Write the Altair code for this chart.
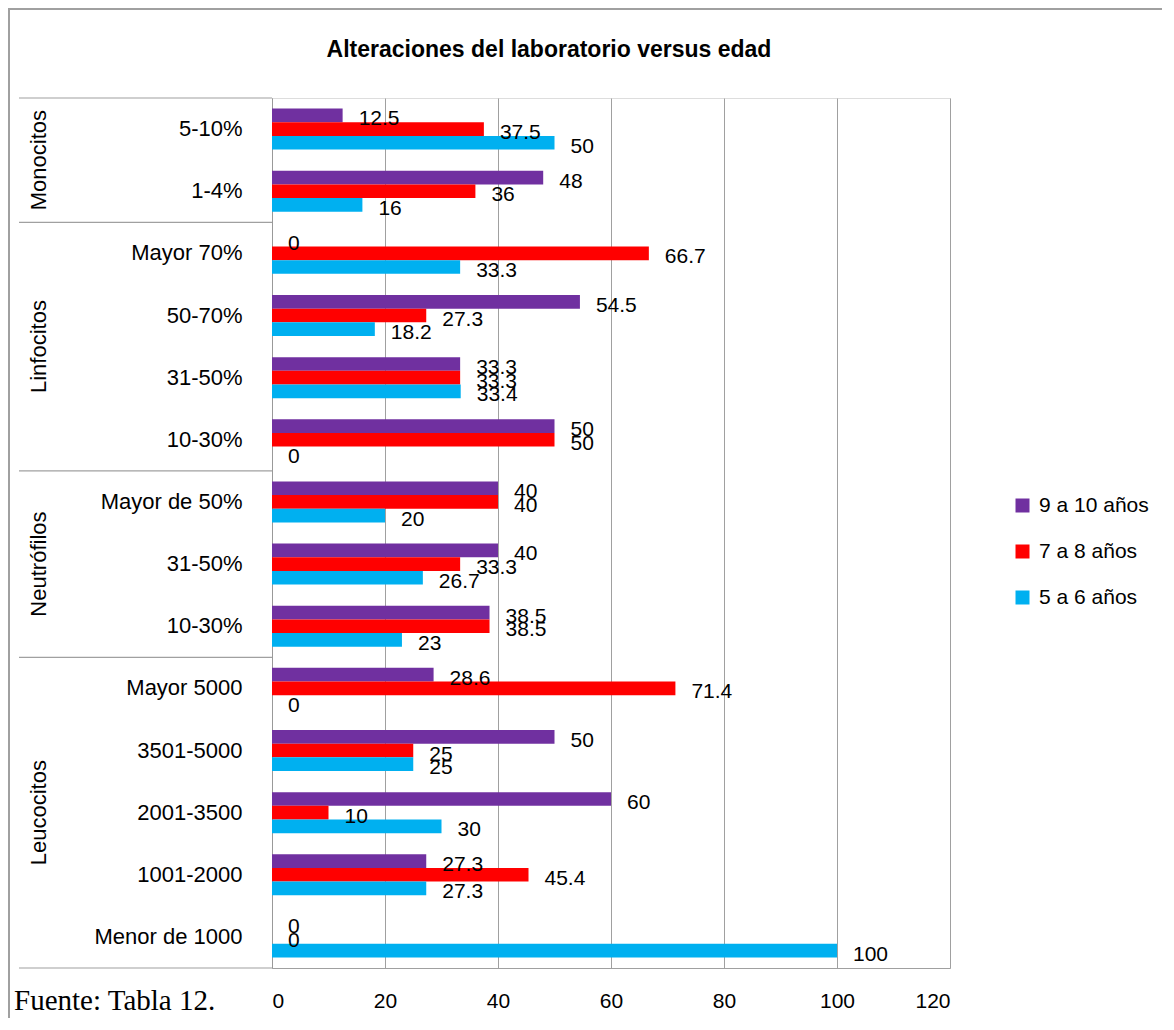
import altair as alt
import pandas as pd

# ---- data ----
groups = ["Monocitos", "Linfocitos", "Neutrófilos", "Leucocitos"]
group_items = [
    ["5-10%", "1-4%"],
    ["Mayor 70%", "50-70%", "31-50%", "10-30%"],
    ["Mayor de 50%", "31-50%", "10-30%"],
    ["Mayor 5000", "3501-5000", "2001-3500", "1001-2000", "Menor de 1000"],
]
series = ["9 a 10 años", "7 a 8 años", "5 a 6 años"]
colors = ["#7030A0", "#FF0000", "#00B0F0"]
v_9_10 = [12.5, 48, 0, 54.5, 33.3, 50, 40, 40, 38.5, 28.6, 50, 60, 27.3, 0]
v_7_8 = [37.5, 36, 66.7, 27.3, 33.3, 50, 40, 33.3, 38.5, 71.4, 25, 10, 45.4, 0]
v_5_6 = [50, 16, 33.3, 18.2, 33.4, 0, 20, 26.7, 23, 0, 25, 30, 27.3, 100]
x_ticks = [0, 20, 40, 60, 80, 100, 120]
title_text = "Alteraciones del laboratorio versus edad"
source_text = "Fuente: Tabla 12."

FONT = "Liberation Sans, Arial, sans-serif"

keys = []
for g, items in zip(groups, group_items):
    for it in items:
        keys.append(g + "|" + it)
n = len(keys)

rows = []
for s, vals in zip(series, [v_9_10, v_7_8, v_5_6]):
    for k, v in zip(keys, vals):
        rows.append({"key": k, "serie": s, "valor": v})
df = pd.DataFrame(rows)

# group boundaries and label centres (in category units from top)
bounds = [0]
for items in group_items:
    bounds.append(bounds[-1] + len(items))
df_b = pd.DataFrame({"b": bounds})
df_g = pd.DataFrame({
    "grupo": groups,
    "c": [(bounds[i] + bounds[i + 1]) / 2 for i in range(len(groups))],
})

W, H = 678, 870

yscale = alt.Scale(domain=keys, paddingInner=0.34, paddingOuter=0.17)
color_scale = alt.Scale(domain=series, range=colors)

base = alt.Chart(df)

bars = base.mark_bar().encode(
    y=alt.Y("key:N", scale=yscale, sort=keys,
            axis=alt.Axis(title=None, labelExpr="split(datum.label, '|')[1]",
                          ticks=False, domainColor="#999999", labelPadding=30,
                          labelFontSize=22, labelFont=FONT, labelColor="#000000")),
    yOffset=alt.YOffset("serie:N", sort=series, scale=alt.Scale(domain=series)),
    x=alt.X("valor:Q", scale=alt.Scale(domain=[0, 120], nice=False),
            axis=alt.Axis(title=None, values=x_ticks, grid=True, gridColor="#A0A0A0",
                          ticks=False, domainColor="#A0A0A0", labelPadding=22,
                          labelFontSize=21, labelFont=FONT, labelColor="#000000")),
    color=alt.Color("serie:N", scale=color_scale, sort=series,
                    legend=alt.Legend(title=None, orient="none", legendX=W + 62,
                                      legendY=H / 2 - 38, symbolType="square",
                                      symbolSize=196, labelFontSize=21,
                                      labelFont=FONT, labelColor="#000000",
                                      rowPadding=24, labelOffset=6,
                                      symbolStrokeWidth=0)),
)

labels = base.mark_text(align="left", baseline="middle", dx=16, dy=4,
                        fontSize=21, font=FONT, color="#000000").encode(
    y=alt.Y("key:N", scale=yscale, sort=keys),
    yOffset=alt.YOffset("serie:N", sort=series, scale=alt.Scale(domain=series)),
    x=alt.X("valor:Q"),
    text=alt.Text("valor:Q", format="~g"),
)

qy = alt.Scale(domain=[0, n], reverse=True, nice=False, zero=False)

sep = alt.Chart(df_b).mark_rule(color="#A0A0A0", strokeWidth=1.2).encode(
    y=alt.Y("b:Q", scale=qy, axis=None),
    x=alt.value(-253),
    x2=alt.value(0),
)

glab = alt.Chart(df_g).mark_text(angle=270, fontSize=22, font=FONT,
                                 color="#000000", align="center",
                                 baseline="middle").encode(
    y=alt.Y("c:Q", scale=qy, axis=None),
    x=alt.value(-233),
    text="grupo:N",
)

frame_top = alt.Chart(df_b.head(1)).mark_rule(color="#A0A0A0", strokeWidth=2).encode(
    x=alt.value(-264), x2=alt.value(W + 230), y=alt.value(-89)
)
frame_left = alt.Chart(df_b.head(1)).mark_rule(color="#A0A0A0", strokeWidth=2).encode(
    x=alt.value(-263), y=alt.value(-90), y2=alt.value(H + 70)
)

title = alt.Chart(pd.DataFrame({"t": [title_text]})).mark_text(
    align="center", baseline="middle", fontSize=23, fontWeight="bold",
    font=FONT, color="#000000").encode(
    x=alt.value(277), y=alt.value(-48), text="t:N"
)

fuente = alt.Chart(pd.DataFrame({"t": [source_text]})).mark_text(
    align="left", baseline="middle", fontSize=29,
    font="Liberation Serif, Times New Roman, serif", color="#000000").encode(
    x=alt.value(-258), y=alt.value(H + 33), text="t:N"
)

main = alt.layer(bars, labels)
deco = alt.layer(sep, glab)

chart = alt.layer(main, deco, frame_top, frame_left, title, fuente).resolve_scale(
    y="independent"
).properties(
    width=W, height=H,
    padding={"left": 264, "top": 90, "right": 212, "bottom": 50},
    autosize=alt.AutoSizeParams(type="none"),
).configure_view(stroke=None).configure(background="white")

chart.save("out.html", embed_options={"renderer": "svg", "actions": False})
